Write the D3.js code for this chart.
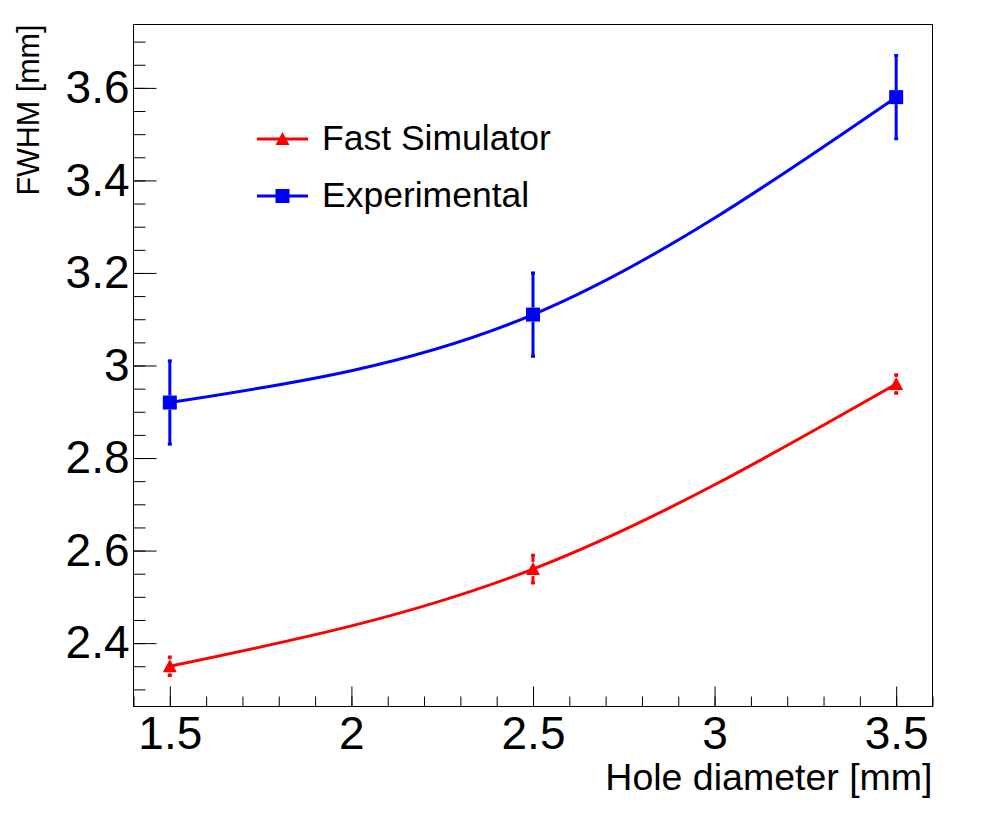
<!DOCTYPE html>
<html>
<head>
<meta charset="utf-8">
<script src="https://cdn.jsdelivr.net/npm/d3@7"></script>
<style>
  body { margin: 0; background: #fff; }
  svg { display: block; font-family: "Liberation Sans", Arial, Helvetica, sans-serif; }
</style>
</head>
<body>
<div id="chart"></div>
<script>
// values
const holeDiameter = [1.5, 2.5, 3.5];
const fastSimValues = [2.35, 2.56, 2.96];
const fastSimErrors = [0.02, 0.03, 0.02];
const experimentalValues = [2.92, 3.11, 3.58];
const experimentalErrors = [0.09, 0.09, 0.09];

const xTickValues = [1.5, 2, 2.5, 3, 3.5];
const yTickValues = [2.4, 2.6, 2.8, 3, 3.2, 3.4, 3.6];
const xTitle = "Hole diameter [mm]";
const yTitle = "FWHM [mm]";

const series = [
  { name: "Fast Simulator", color: "#ff0000", marker: "triangle", values: fastSimValues, errors: fastSimErrors },
  { name: "Experimental", color: "#0000ff", marker: "square", values: experimentalValues, errors: experimentalErrors }
];

const W = 998, H = 821;
const margin = { top: 24.5, left: 133.5, right: 65.5, bottom: 114.5 };
const width = W - margin.left - margin.right;
const height = H - margin.top - margin.bottom;

const svg = d3.select("#chart").append("svg")
  .attr("width", W)
  .attr("height", H);

const g = svg.append("g")
  .attr("transform", `translate(${margin.left},${margin.top})`);

const x = d3.scaleLinear().domain([1.4, 3.6]).range([0, width]);
const y = d3.scaleLinear().domain([2.263, 3.737]).range([height, 0]);

const fmt = d3.format("~g");

// frame
g.append("rect")
  .attr("width", width)
  .attr("height", height)
  .attr("fill", "none")
  .attr("stroke", "#000")
  .attr("stroke-width", 1);

// x axis (ticks pointing inward, ROOT style)
const xMinor = d3.range(1.4, 3.6001, 0.1);
g.append("g")
  .attr("transform", `translate(0,${height})`)
  .call(d3.axisBottom(x).tickValues(xMinor).tickSize(-10).tickFormat(""))
  .call(a => a.select(".domain").remove());
g.append("g")
  .attr("class", "axis")
  .attr("transform", `translate(0,${height})`)
  .call(d3.axisBottom(x).tickValues(xTickValues).tickSize(-20).tickPadding(10).tickFormat(fmt))
  .call(a => a.select(".domain").remove())
  .call(a => a.selectAll("text").attr("font-size", 46).attr("font-family", null));

// y axis
const yMinor = d3.range(2.3, 3.7001, 0.05);
g.append("g")
  .call(d3.axisLeft(y).tickValues(yMinor).tickSize(-12).tickFormat(""))
  .call(a => a.select(".domain").remove());
g.append("g")
  .attr("class", "axis")
  .call(d3.axisLeft(y).tickValues(yTickValues).tickSize(-23).tickPadding(4).tickFormat(fmt))
  .call(a => a.select(".domain").remove())
  .call(a => a.selectAll("text").attr("font-size", 46).attr("font-family", null));

g.selectAll(".tick line").attr("stroke", "#000");

// axis titles
svg.append("text")
  .attr("x", margin.left + width)
  .attr("y", 790)
  .attr("text-anchor", "end")
  .attr("font-size", 37.5)
  .text(xTitle);

svg.append("text")
  .attr("transform", `translate(38.5,${margin.top}) rotate(-90)`)
  .attr("text-anchor", "end")
  .attr("font-size", 30.5)
  .text(yTitle);

function drawMarker(sel, type, cx, cy, color) {
  if (type === "square") {
    sel.append("rect")
      .attr("x", cx - 7).attr("y", cy - 7)
      .attr("width", 14).attr("height", 14)
      .attr("fill", color);
  } else {
    sel.append("path")
      .attr("d", `M${cx - 7},${cy + 6}L${cx + 7},${cy + 6}L${cx},${cy - 7}Z`)
      .attr("fill", color);
  }
}

const line = d3.line()
  .x((d, i) => x(holeDiameter[i]))
  .y(d => y(d))
  .curve(d3.curveNatural);

series.forEach(s => {
  const sg = g.append("g");

  sg.append("path")
    .datum(s.values)
    .attr("fill", "none")
    .attr("stroke", s.color)
    .attr("stroke-width", 3)
    .attr("d", line);

  // error bars, drawn outside the marker like ROOT does
  s.values.forEach((v, i) => {
    const cx = x(holeDiameter[i]);
    const cy = y(v);
    const top = y(v + s.errors[i]);
    const bot = y(v - s.errors[i]);
    [[cy - 7, top], [cy + 7, bot]].forEach(([from, to]) => {
      if (Math.abs(to - cy) > 7) {
        sg.append("line")
          .attr("x1", cx).attr("x2", cx)
          .attr("y1", from).attr("y2", to)
          .attr("stroke", s.color)
          .attr("stroke-width", 3);
      }
      sg.append("rect")
        .attr("x", cx - 2).attr("y", to - 1.5)
        .attr("width", 4).attr("height", 3)
        .attr("fill", s.color);
    });
    drawMarker(sg, s.marker, cx, cy, s.color);
  });
});

// legend
const legend = svg.append("g");
series.forEach((s, i) => {
  const ly = 139 + i * 57;
  legend.append("line")
    .attr("x1", 257).attr("x2", 308)
    .attr("y1", ly).attr("y2", ly)
    .attr("stroke", s.color)
    .attr("stroke-width", 3);
  drawMarker(legend, s.marker, 282.5, ly, s.color);
  legend.append("text")
    .attr("x", 322)
    .attr("y", ly + 11)
    .attr("font-size", 35.5)
    .text(s.name);
});
</script>
</body>
</html>
